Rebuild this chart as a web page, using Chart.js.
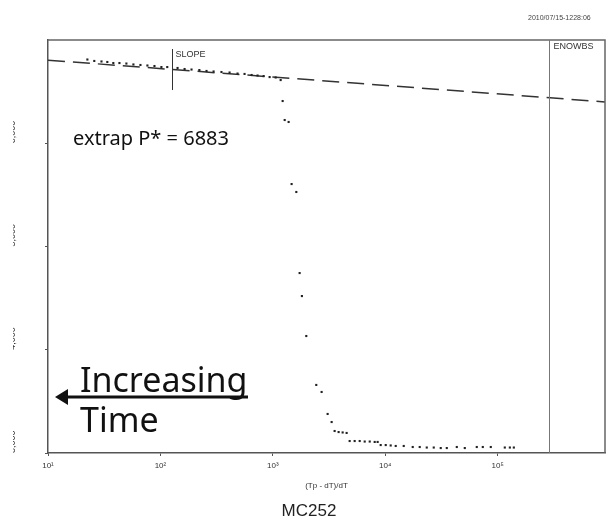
<!DOCTYPE html>
<html>
<head>
<meta charset="utf-8">
<script src="https://cdn.jsdelivr.net/npm/chart.js@4.4.1/dist/chart.umd.min.js"></script>
<style>
  html, body { margin: 0; padding: 0; background: #fff; }
  #wrap { width: 613px; height: 529px; }
</style>
</head>
<body>
<div id="wrap"><canvas id="hornerChart"></canvas></div>
<script>
// Horner data: (Tp - dT)/dT vs pressure
const tdtX = [22.4, 25.8, 29.9, 33.7, 38.1, 43.2, 49.8, 57.5, 66.4, 76.6, 88.5, 102, 115, 142, 164,
  189, 222, 257, 297, 349, 412, 485, 560, 647, 731, 828, 936, 1059, 1173, 1222, 1274, 1381, 1468,
  1617, 1730, 1813, 1983, 2433, 2714, 3070, 3333, 3542, 3845, 4175, 4530, 4820, 5340, 5920, 6560,
  7270, 8050, 8550, 9100, 10090, 11170, 12380, 14590, 17540, 20240, 23380, 26980, 31130, 35240,
  43250, 50940, 65110, 73660, 86750, 115600, 128200, 139100];
const pressure = [6811, 6797, 6792, 6787, 6777, 6777, 6772, 6763, 6758, 6753, 6748, 6738, 6738, 6729, 6719,
  6714, 6709, 6700, 6695, 6690, 6685, 6675, 6671, 6661, 6656, 6651, 6641, 6637, 6612, 6409, 6225, 6206, 5605,
  5528, 4743, 4520, 4133, 3659, 3591, 3378, 3300, 3213, 3203, 3199, 3194, 3116, 3116, 3116, 3111,
  3111, 3107, 3107, 3077, 3077, 3073, 3068, 3068, 3058, 3058, 3053, 3053, 3048, 3048,
  3058, 3048, 3058, 3058, 3058, 3053, 3053, 3053];

// extrapolatie lijn
const slopeLineX = [10, 900000];
const slopeLineP = [6805, 6400];

// assen
const xTicks = [10, 100, 1000, 10000, 100000];
const xTickLabels = ["10¹", "10²", "10³", "10⁴", "10⁵"];
const yTicks = [3000, 4000, 5000, 6000];

// markers
const markerX = [128, 285000];
const markerLabels = ["SLOPE", "ENOWBS"];

const titleText = "MC252";
const xAxisTitle = "(Tp - dT)/dT";
const stampText = "2010/07/15-1228:06";
const extrapText = "extrap P* = 6883";

// Tekent kader, markers en annotaties
const overlay = {
  id: "overlay",
  afterDraw(chart) {
    const { ctx, chartArea: a, scales } = chart;
    const x = scales.x;
    ctx.save();

    // kader boven en rechts
    ctx.strokeStyle = "#666";
    ctx.lineWidth = 1.5;
    ctx.beginPath();
    ctx.moveTo(a.left, a.top);
    ctx.lineTo(a.right, a.top);
    ctx.lineTo(a.right, a.bottom);
    ctx.stroke();

    // SLOPE marker
    ctx.strokeStyle = "#333";
    ctx.lineWidth = 1;
    const sx = Math.round(x.getPixelForValue(markerX[0])) + 0.5;
    ctx.beginPath();
    ctx.moveTo(sx, a.top + 9);
    ctx.lineTo(sx, a.top + 50);
    ctx.stroke();

    // ENOWBS marker
    ctx.strokeStyle = "#777";
    const ex = Math.round(x.getPixelForValue(markerX[1])) + 0.5;
    ctx.beginPath();
    ctx.moveTo(ex, a.top);
    ctx.lineTo(ex, a.bottom);
    ctx.stroke();

    ctx.fillStyle = "#333";
    ctx.textBaseline = "top";
    ctx.font = "9px 'Liberation Sans Narrow', 'Liberation Sans', sans-serif";
    ctx.fillText(markerLabels[0], sx + 3, a.top + 10);
    ctx.fillText(markerLabels[1], ex + 4, a.top + 2);

    // tijdstempel
    ctx.font = "7px 'Liberation Sans', sans-serif";
    ctx.fillStyle = "#444";
    ctx.textBaseline = "alphabetic";
    ctx.fillText(stampText, 528, 20);

    // extrap tekst
    ctx.fillStyle = "#111";
    ctx.font = "20px 'Noto Sans', sans-serif";
    ctx.fillText(extrapText, 73, 145);

    // Increasing Time
    ctx.font = "34px 'Noto Sans', sans-serif";
    ctx.fillText("Increasing", 80, 392);
    ctx.fillText("Time", 80, 432);

    // pijl
    ctx.strokeStyle = "#111";
    ctx.lineWidth = 3;
    ctx.beginPath();
    ctx.moveTo(64, 397);
    ctx.lineTo(248, 397);
    ctx.stroke();
    ctx.beginPath();
    ctx.moveTo(55, 397);
    ctx.lineTo(68, 389);
    ctx.lineTo(68, 405);
    ctx.closePath();
    ctx.fill();

    ctx.restore();
  }
};

const axisFont = { family: "'Liberation Sans', sans-serif", size: 8 };

new Chart(document.getElementById("hornerChart"), {
  type: "scatter",
  data: {
    datasets: [
      {
        label: "Pressure",
        data: tdtX.map((v, i) => ({ x: v, y: pressure[i] })),
        pointStyle: "rect",
        pointRadius: 1.5,
        pointBackgroundColor: "#222",
        pointBorderWidth: 0,
        showLine: false,
      },
      {
        label: "Extrap",
        data: slopeLineX.map((v, i) => ({ x: v, y: slopeLineP[i] })),
        showLine: true,
        borderColor: "#333",
        borderWidth: 1.5,
        borderDash: [17, 8],
        pointRadius: 0,
        tension: 0,
      },
    ],
  },
  options: {
    responsive: true,
    maintainAspectRatio: false,
    animation: false,
    layout: { padding: { top: 40, right: 8, bottom: 0, left: 13 } },
    plugins: {
      legend: { display: false },
      tooltip: { enabled: false },
      title: {
        display: true,
        position: "bottom",
        text: titleText,
        color: "#222",
        font: { family: "'Liberation Sans', sans-serif", size: 17, weight: "normal" },
        padding: { top: 5, bottom: 7 },
      },
    },
    scales: {
      x: {
        type: "logarithmic",
        min: 10,
        max: 900000,
        afterBuildTicks: (s) => { s.ticks = xTicks.map((v) => ({ value: v })); },
        afterFit: (s) => { s.height = 43.6; },
        border: { color: "#555", width: 1.5 },
        grid: { drawOnChartArea: false, tickLength: 3, color: "#555" },
        ticks: {
          autoSkip: false,
          maxRotation: 0,
          padding: 5,
          color: "#333",
          font: axisFont,
          callback: (v) => xTickLabels[xTicks.indexOf(v)],
        },
        title: {
          display: true,
          text: xAxisTitle,
          color: "#333",
          font: axisFont,
          padding: { top: 0, bottom: 6 },
        },
      },
      y: {
        type: "linear",
        min: 3000,
        max: 7000,
        afterBuildTicks: (s) => { s.ticks = yTicks.map((v) => ({ value: v })); },
        afterFit: (s) => { s.width = 35; },
        border: { color: "#555", width: 1.5 },
        grid: { drawOnChartArea: false, tickLength: 3, color: "#555" },
        ticks: {
          autoSkip: false,
          minRotation: 90,
          maxRotation: 90,
          crossAlign: "far",
          color: "#333",
          font: { family: "'Liberation Sans', sans-serif", size: 9 },
        },
      },
    },
  },
  plugins: [overlay],
});
</script>
</body>
</html>
